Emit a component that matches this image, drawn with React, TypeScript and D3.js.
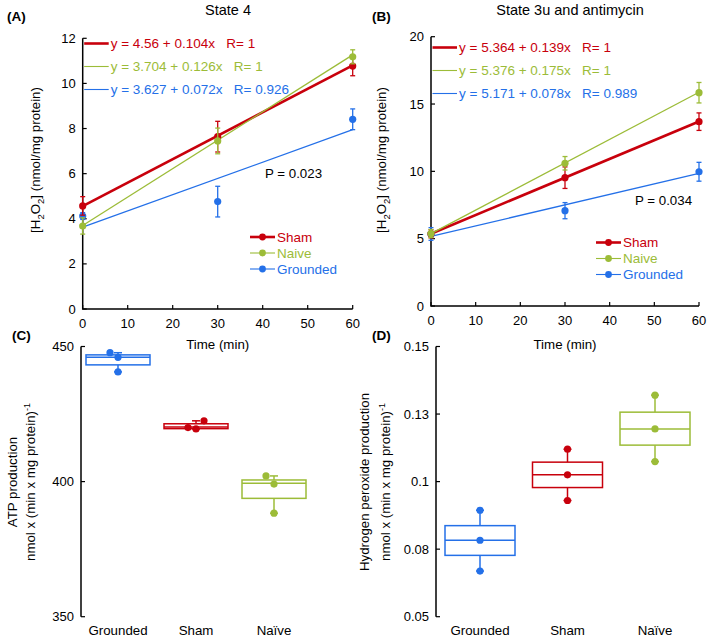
import React from "react";
import * as d3 from "d3";

// ---- data ----
const times = [0, 30, 60];
const groups = ["Sham", "Naive", "Grounded"];
const colors = ["#c8000c", "#9cbc38", "#2470e8"];
const fitWidths = [2.6, 1.3, 1.3];

// panel A, state 4
const aMeans = [
  [4.57, 7.64, 10.77],
  [3.68, 7.45, 11.18],
  [4.12, 4.76, 8.41],
];
const aErr = [
  [0.41, 0.68, 0.43],
  [0.36, 0.57, 0.31],
  [0.15, 0.68, 0.46],
];
const aIntercept = [4.56, 3.704, 3.627];
const aSlope = [0.104, 0.126, 0.072];
const aR = ["1", "1", "0.926"];
const aP = "P = 0.023";
const aYTicks = [0, 2, 4, 6, 8, 10, 12];

// panel B, state 3u and antimycin
const bMeans = [
  [5.36, 9.53, 13.69],
  [5.38, 10.6, 15.84],
  [5.35, 7.08, 9.97],
];
const bErr = [
  [0.3, 0.8, 0.65],
  [0.3, 0.5, 0.76],
  [0.47, 0.6, 0.7],
];
const bIntercept = [5.364, 5.376, 5.171];
const bSlope = [0.139, 0.175, 0.078];
const bR = ["1", "1", "0.989"];
const bP = "P = 0.034";
const bYTicks = [0, 5, 10, 15, 20];

const timeTicks = [0, 10, 20, 30, 40, 50, 60];

// panels C and D
const boxCats = ["Grounded", "Sham", "Naïve"];
const boxColors = ["#2470e8", "#c8000c", "#9cbc38"];

const cPoints = [
  [447.7, 446.0, 440.6],
  [420.0, 419.5, 422.5],
  [402.1, 399.1, 388.3],
];
const cQ1 = [443.2, 419.6, 393.8];
const cMedian = [446.0, 420.2, 399.4];
const cQ3 = [446.9, 421.4, 400.6];
const cLow = [440.6, 419.5, 388.3];
const cHigh = [447.7, 422.5, 402.1];
const cYTicks = [350, 400, 450];

const dPoints = [
  [0.0669, 0.0783, 0.0894],
  [0.093, 0.1025, 0.112],
  [0.1074, 0.1195, 0.132],
];
const dQ1 = [0.0727, 0.0978, 0.1135];
const dMedian = [0.0783, 0.1025, 0.1195];
const dQ3 = [0.0837, 0.1072, 0.1257];
const dLow = [0.0669, 0.093, 0.1074];
const dHigh = [0.0894, 0.112, 0.132];
const dYTicks = [0.05, 0.075, 0.1, 0.125, 0.15];
const dYLabels = ["0.05", "0.08", "0.1", "0.13", "0.15"];

const FONT = "'Liberation Sans', Arial, Helvetica, sans-serif";
const FS = 13.3;
const TICK_FS = 13;

function LinePanel({ x0, x1, y0, y1, yMax, yTicks, means, errs, intercepts, slopes, rs, pText, pPos, eqY, legX, legY, title, titleX, letter, letterX, yLabelX }) {
  const x = d3.scaleLinear().domain([0, 60]).range([x0, x1]);
  const y = d3.scaleLinear().domain([0, yMax]).range([y0, y1]);
  const order = [2, 0, 1];
  return (
    <g>
      <text x={letterX} y={21} fontSize={13.5} fontWeight="bold">{letter}</text>
      <text x={titleX} y={15} fontSize={14.5} textAnchor="middle">{title}</text>
      {/* axes */}
      <path d={`M${x0},${y1}V${y0}H${x1}`} fill="none" stroke="#000" strokeWidth={1.5} />
      {yTicks.map((t) => (
        <g key={t}>
          <line x1={x0} x2={x0 + 4} y1={y(t)} y2={y(t)} stroke="#000" strokeWidth={1.2} />
          <text x={x0 - 7} y={y(t)} dy="0.35em" fontSize={TICK_FS} textAnchor="end">{t}</text>
        </g>
      ))}
      {timeTicks.map((t) => (
        <g key={t}>
          <line x1={x(t)} x2={x(t)} y1={y0} y2={y0 - 4} stroke="#000" strokeWidth={1.2} />
          <text x={x(t)} y={y0 + 19} fontSize={TICK_FS} textAnchor="middle">{t}</text>
        </g>
      ))}
      <text x={(x0 + x1) / 2} y={349} fontSize={FS} textAnchor="middle">Time (min)</text>
      <text transform={`translate(${yLabelX},${160}) rotate(-90)`} fontSize={FS} textAnchor="middle">
        [H<tspan dy="4" fontSize={9.5}>2</tspan><tspan dy="-4">O</tspan><tspan dy="4" fontSize={9.5}>2</tspan><tspan dy="-4">] (nmol/mg protein)</tspan>
      </text>
      {/* fitted lines */}
      {order.map((g) => (
        <line key={"fit" + g} x1={x(0)} y1={y(intercepts[g])} x2={x(60)} y2={y(intercepts[g] + slopes[g] * 60)}
          stroke={colors[g]} strokeWidth={fitWidths[g]} />
      ))}
      {/* error bars + markers */}
      {order.map((g) => (
        <g key={"pts" + g} stroke={colors[g]} fill={colors[g]}>
          {times.map((t, i) => (
            <g key={t}>
              <line x1={x(t)} x2={x(t)} y1={y(means[g][i] - errs[g][i])} y2={y(means[g][i] + errs[g][i])} strokeWidth={1.3} />
              <line x1={x(t) - 2.5} x2={x(t) + 2.5} y1={y(means[g][i] + errs[g][i])} y2={y(means[g][i] + errs[g][i])} strokeWidth={1.3} />
              <line x1={x(t) - 2.5} x2={x(t) + 2.5} y1={y(means[g][i] - errs[g][i])} y2={y(means[g][i] - errs[g][i])} strokeWidth={1.3} />
              <circle cx={x(t)} cy={y(means[g][i])} r={3.6} stroke="none" />
            </g>
          ))}
        </g>
      ))}
      {/* equation legend */}
      {groups.map((_, g) => {
        const yy = eqY + g * 23;
        const eq = `y = ${intercepts[g]} + ${slopes[g]}x`;
        return (
          <g key={"eq" + g}>
            <line x1={x0 + 1.5} x2={x0 + 26} y1={yy} y2={yy} stroke={colors[g]} strokeWidth={g === 0 ? 2.6 : 1.1} />
            <text x={x0 + 28} y={yy} dy="0.35em" fontSize={13.5} fill={colors[g]} style={{ whiteSpace: "pre" }}>
              {eq + "   R= " + rs[g]}
            </text>
          </g>
        );
      })}
      <text x={pPos[0]} y={pPos[1]} dy="0.35em" fontSize={FS}>{pText}</text>
      {/* series legend */}
      {groups.map((name, g) => {
        const yy = legY + g * 16;
        return (
          <g key={"leg" + g}>
            <line x1={legX} x2={legX + 25} y1={yy} y2={yy} stroke={colors[g]} strokeWidth={g === 0 ? 2.6 : 1.1} />
            <circle cx={legX + 12.5} cy={yy} r={3.4} fill={colors[g]} />
            <text x={legX + 27} y={yy} dy="0.35em" fontSize={13.5} fill={colors[g]}>{name}</text>
          </g>
        );
      })}
    </g>
  );
}

function BoxPanel({ axisX, cx0, cx1, boxW, yDomain, yTicks, yLabels, points, q1, med, q3, low, high, jitter, letter, letterX, label1, label1X, label2X }) {
  const y = d3.scaleLinear().domain(yDomain).range([616.7, 346.5]);
  const x = d3.scalePoint().domain(boxCats).range([cx0, cx1]);
  return (
    <g>
      <text x={letterX} y={340} fontSize={13.5} fontWeight="bold">{letter}</text>
      <line x1={axisX} x2={axisX} y1={y(yDomain[1])} y2={y(yDomain[0])} stroke="#000" strokeWidth={1.5} />
      {yTicks.map((t, i) => (
        <g key={t}>
          <line x1={axisX} x2={axisX + 4} y1={y(t)} y2={y(t)} stroke="#000" strokeWidth={1.2} />
          <text x={axisX - 7} y={y(t)} dy="0.35em" fontSize={TICK_FS} textAnchor="end">{yLabels ? yLabels[i] : t}</text>
        </g>
      ))}
      <text transform={`translate(${label1X},482) rotate(-90)`} fontSize={FS} textAnchor="middle">{label1}</text>
      <text transform={`translate(${label2X},482) rotate(-90)`} fontSize={FS} textAnchor="middle">
        nmol x (min x mg protein)<tspan dy="-5" fontSize={9}>-1</tspan>
      </text>
      {boxCats.map((c, i) => {
        const cx = x(c);
        const col = boxColors[i];
        return (
          <g key={c} stroke={col} fill="none" strokeWidth={1.5}>
            <line x1={cx} x2={cx} y1={y(q3[i])} y2={y(high[i])} />
            <line x1={cx} x2={cx} y1={y(q1[i])} y2={y(low[i])} />
            <line x1={cx - 4} x2={cx + 4} y1={y(high[i])} y2={y(high[i])} />
            <line x1={cx - 4} x2={cx + 4} y1={y(low[i])} y2={y(low[i])} />
            <rect x={cx - boxW / 2} y={y(q3[i])} width={boxW} height={y(q1[i]) - y(q3[i])} fill="#fff" />
            <line x1={cx - boxW / 2} x2={cx + boxW / 2} y1={y(med[i])} y2={y(med[i])} />
            {points[i].map((v, k) => (
              <circle key={k} cx={cx + jitter[i][k] * 8} cy={y(v)} r={3.6} fill={col} stroke="none" />
            ))}
            <text x={cx} y={635} fontSize={FS} textAnchor="middle" fill="#000" stroke="none">{c}</text>
          </g>
        );
      })}
    </g>
  );
}

export default function App() {
  return (
    <svg width={709} height={639} style={{ position: "absolute", left: 0, top: 0, fontFamily: FONT, background: "#fff" }}>
      <rect width={709} height={639} fill="#fff" />
      <LinePanel x0={82.7} x1={352.7} y0={309} y1={38.3} yMax={12} yTicks={aYTicks}
        means={aMeans} errs={aErr} intercepts={aIntercept} slopes={aSlope} rs={aR}
        pText={aP} pPos={[265, 173]} eqY={43.5} legX={250} legY={237}
        title="State 4" titleX={228} letter="(A)" letterX={7} yLabelX={40} />
      <LinePanel x0={431} x1={699} y0={306} y1={36.7} yMax={20} yTicks={bYTicks}
        means={bMeans} errs={bErr} intercepts={bIntercept} slopes={bSlope} rs={bR}
        pText={bP} pPos={[635, 200]} eqY={47.5} legX={596} legY={242.5}
        title="State 3u and antimycin" titleX={570} letter="(B)" letterX={372} yLabelX={386} />
      <BoxPanel axisX={81} cx0={118} cx1={274} boxW={64} yDomain={[350, 450]} yTicks={cYTicks}
        points={cPoints} q1={cQ1} med={cMedian} q3={cQ3} low={cLow} high={cHigh}
        jitter={[[-1, 0, 0], [-1, 0, 1], [-1, 0, 0]]}
        letter="(C)" letterX={12} label1="ATP production" label1X={17} label2X={35} />
      <BoxPanel axisX={436} cx0={480} cx1={655} boxW={70} yDomain={[0.05, 0.15]} yTicks={dYTicks} yLabels={dYLabels}
        points={dPoints} q1={dQ1} med={dMedian} q3={dQ3} low={dLow} high={dHigh}
        jitter={[[0, 0, 0], [0, 0, 0], [0, 0, 0]]}
        letter="(D)" letterX={372} label1="Hydrogen peroxide production" label1X={369} label2X={390} />
    </svg>
  );
}
